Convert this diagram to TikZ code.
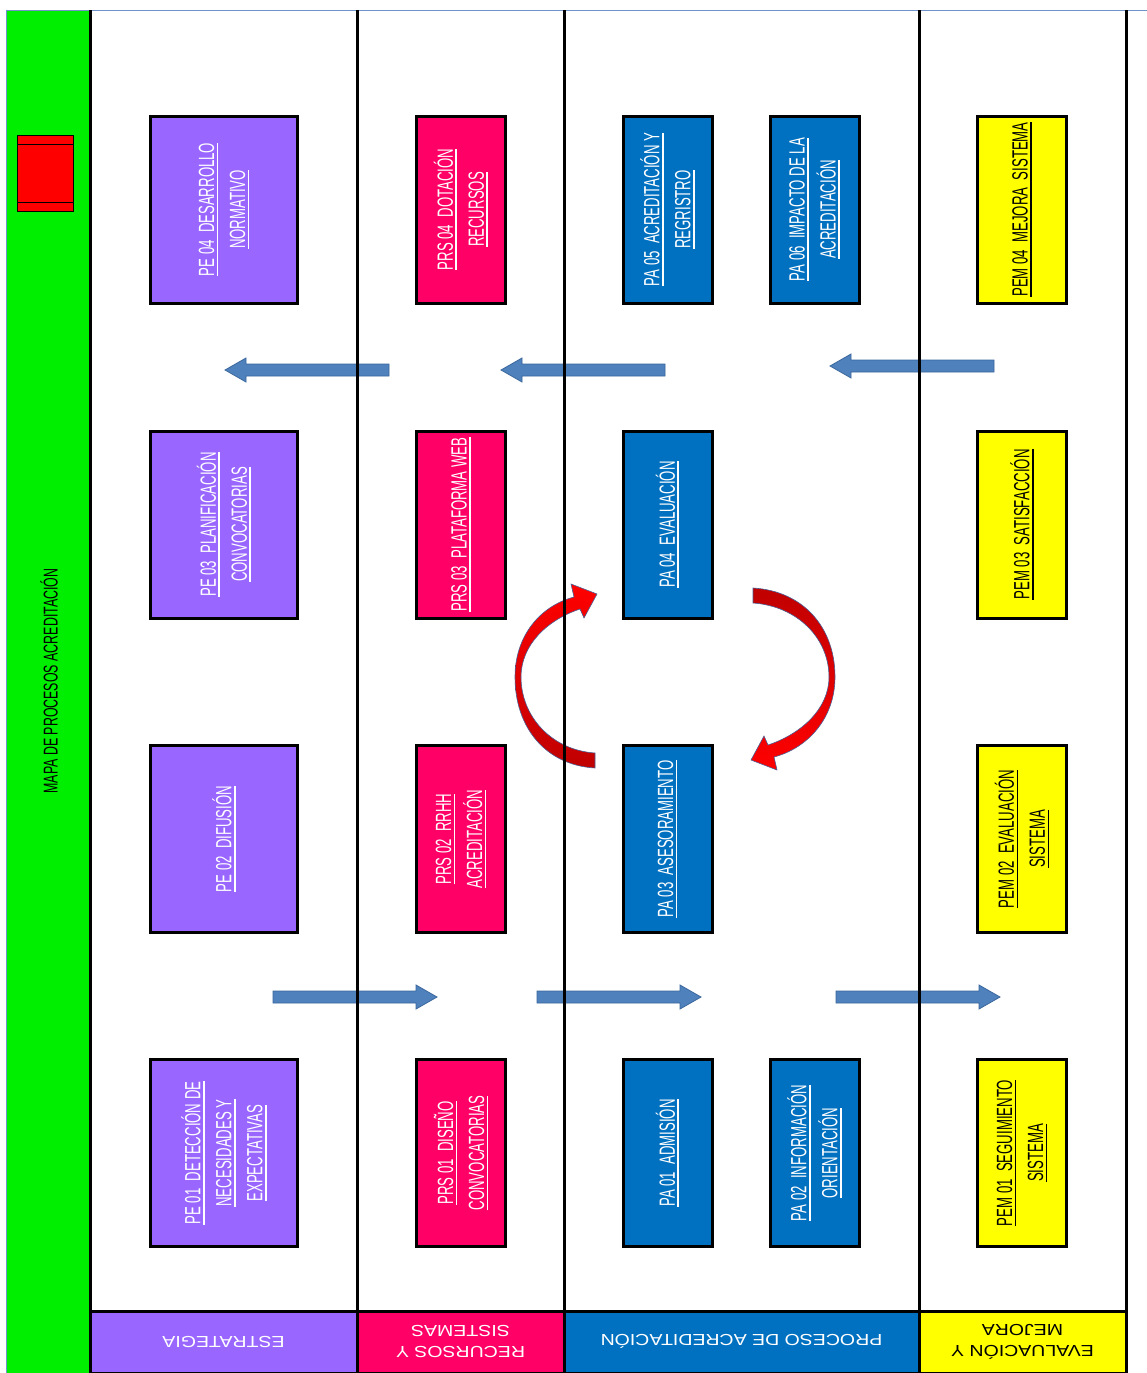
\documentclass[tikz,border=0pt]{standalone}
\usepackage{fontspec}
\setmainfont{Liberation Sans}
\newfontfamily\boxfont[FakeStretch=0.6]{Liberation Sans}
\newfontfamily\titlefont[FakeStretch=0.62]{Liberation Sans}
\newfontfamily\headfont[FakeStretch=1.22]{Liberation Sans}
\usetikzlibrary{calc}

\definecolor{estr}{HTML}{9966FF}
\definecolor{recu}{HTML}{FF0066}
\definecolor{proc}{HTML}{0070C0}
\definecolor{evalu}{HTML}{FFFF00}
\definecolor{mapgreen}{HTML}{00EE00}
\definecolor{flowblue}{HTML}{4F81BD}
\definecolor{flowedge}{HTML}{3A679C}
\definecolor{framefine}{HTML}{6F93C8}
\definecolor{cycdark}{HTML}{C00000}
\definecolor{cycedge}{HTML}{4A5F95}

% underlined line of text (rule a little below the baseline)
\newcommand\lineul[1]{\leavevmode\setbox0=\hbox{#1}\rlap{\vrule width\wd0 height -2.6pt depth 4.3pt}\box0}

\tikzset{
  lane/.style={draw=black, line width=3pt},
  procbox/.style={rectangle, draw=black, line width=3pt, inner sep=0pt, rotate=90,
    minimum width=187, align=center, text=white,
    font=\boxfont\fontsize{22}{31}\selectfont},
  widebox/.style={procbox, minimum height=147},
  narrowbox/.style={procbox, minimum height=89},
  headcell/.style={rectangle, inner sep=0pt, minimum height=61, rotate=180,
    align=center, text=white, font=\headfont\fontsize{16}{21}\selectfont},
  flowshape/.style={fill=flowblue, draw=flowedge, line width=0.8pt},
  cycshape/.style={draw=cycedge, line width=0.6pt},
  pics/flowarrow/.style={code={
    \path[flowshape] (0,-6) -- (143,-6) -- (143,-12) -- (164,0) -- (143,12)
      -- (143,6) -- (0,6) -- cycle;
  }}
}

\begin{document}
\begin{tikzpicture}[x=1pt, y=-1pt]
\useasboundingbox (0,0) rectangle (1147,1373);
\fill[white] (0,0) rectangle (1147,1373);

% title column
\fill[mapgreen] (7,10) rectangle (90,1373);
\draw[framefine, line width=1pt] (6,1373) -- (6,10) -- (1147,10);
\node[font=\titlefont\fontsize{20}{22}\selectfont, rotate=90, inner sep=0pt]
  (title) at (49,681) {MAPA DE PROCESOS ACREDITACIÓN};
\node[draw=black, line width=1.5pt, fill=red, minimum width=56, minimum height=76,
  inner sep=0pt] (icon) at (45.5,173.5) {};
\draw[line width=1.2pt] ($(icon.north west)+(0,10)$) -- ($(icon.north east)+(0,10)$);
\draw[line width=1.2pt] ($(icon.south west)+(0,-10)$) -- ($(icon.south east)+(0,-10)$);

% lane headers
\node[headcell, fill=estr, minimum width=267] (hE) at (223.5,1341.5) {ESTRATEGIA};
\node[headcell, fill=recu, minimum width=207] (hR) at (460.5,1341.5) {RECURSOS Y\\SISTEMAS};
\node[headcell, fill=proc, minimum width=355] (hP) at (741.5,1341.5) {PROCESO DE ACREDITACIÓN};
\node[headcell, fill=evalu, minimum width=207, text=black] (hV) at (1022.5,1341.5) {EVALUACIÓN Y\\MEJORA};

% ESTRATEGIA
\node[widebox, fill=estr] (pe04) at (224,209.5) {\lineul{PE 04\ \ DESARROLLO}\\\lineul{NORMATIVO}};
\node[widebox, fill=estr] (pe03) at (224,524.5) {\lineul{PE 03\ \ PLANIFICACIÓN}\\\lineul{CONVOCATORIAS}};
\node[widebox, fill=estr] (pe02) at (224,839) {\lineul{PE 02\ \ DIFUSIÓN}};
\node[widebox, fill=estr] (pe01) at (224,1153) {\lineul{PE 01\ \ DETECCIÓN DE}\\\lineul{NECESIDADES Y}\\\lineul{EXPECTATIVAS}};

% RECURSOS Y SISTEMAS
\node[narrowbox, fill=recu] (prs04) at (461,209.5) {\lineul{PRS 04\ \ DOTACIÓN}\\\lineul{RECURSOS}};
\node[narrowbox, fill=recu] (prs03) at (461,524.5) {\lineul{PRS 03\ \ PLATAFORMA WEB}};
\node[narrowbox, fill=recu] (prs02) at (461,839) {\lineul{PRS 02\ \ RRHH}\\\lineul{ACREDITACIÓN}};
\node[narrowbox, fill=recu] (prs01) at (461,1153) {\lineul{PRS 01\ \ DISEÑO}\\\lineul{CONVOCATORIAS}};

% PROCESO DE ACREDITACION
\node[narrowbox, fill=proc] (pa05) at (667.5,209.5) {\lineul{PA 05\ \ ACREDITACIÓN Y}\\\lineul{REGRISTRO}};
\node[narrowbox, fill=proc] (pa06) at (814.5,209.5) {\lineul{PA 06\ \ IMPACTO DE LA}\\\lineul{ACREDITACIÓN}};
\node[narrowbox, fill=proc] (pa04) at (667.5,524.5) {\lineul{PA 04\ \ EVALUACIÓN}};
\node[narrowbox, fill=proc] (pa03) at (667.5,839) {\lineul{PA 03\ \ ASESORAMIENTO}};
\node[narrowbox, fill=proc] (pa01) at (667.5,1153) {\lineul{PA 01\ \ ADMISIÓN}};
\node[narrowbox, fill=proc] (pa02) at (814.5,1153) {\lineul{PA 02\ \ INFORMACIÓN}\\\lineul{ORIENTACIÓN}};

% EVALUACION Y MEJORA
\node[narrowbox, fill=evalu, text=black] (pem04) at (1022,209.5) {\lineul{PEM 04\ \ MEJORA\ \ SISTEMA}};
\node[narrowbox, fill=evalu, text=black] (pem03) at (1022,524.5) {\lineul{PEM 03\ \ SATISFACCIÓN}};
\node[narrowbox, fill=evalu, text=black] (pem02) at (1022,839) {\lineul{PEM 02\ \ EVALUACIÓN}\\\lineul{SISTEMA}};
\node[narrowbox, fill=evalu, text=black] (pem01) at (1022,1153) {\lineul{PEM 01\ \ SEGUIMIENTO}\\\lineul{SISTEMA}};

% flow arrows between lanes
\pic[rotate=180] at (389,370) {flowarrow};
\pic[rotate=180] at (665,370) {flowarrow};
\pic[rotate=180] at (994,366) {flowarrow};
\pic at (273,997) {flowarrow};
\pic at (537,997) {flowarrow};
\pic at (836,997) {flowarrow};

% cycle arrows around PA 03 / PA 04
\path[cycshape, top color=red, bottom color=cycdark]
  (595,768) .. controls (545,765) and (515,727) .. (515,677)
  .. controls (515,636) and (540,606) .. (574,597)
  -- (571,584) -- (597,594) -- (584,618) -- (580,609)
  .. controls (547,620) and (521,645) .. (521,677)
  .. controls (521,716) and (551,750) .. (595,753) -- cycle;
\path[cycshape, top color=cycdark, bottom color=red]
  (753,588) .. controls (803,591) and (835,627) .. (835,677)
  .. controls (835,718) and (808,748) .. (774,757)
  -- (777,770) -- (751,760) -- (764,736) -- (768,745)
  .. controls (801,734) and (829,709) .. (829,677)
  .. controls (829,638) and (797,606) .. (753,603) -- cycle;

% lane separators and frame
\draw[lane] (90,1311) -- (1126,1311);
\draw[black, line width=1.5pt] (90,1372.5) -- (1126,1372.5);
\foreach \lx in {90,357,564,919,1126}
  \draw[lane] (\lx,10) -- (\lx,1373);
\end{tikzpicture}
\end{document}
